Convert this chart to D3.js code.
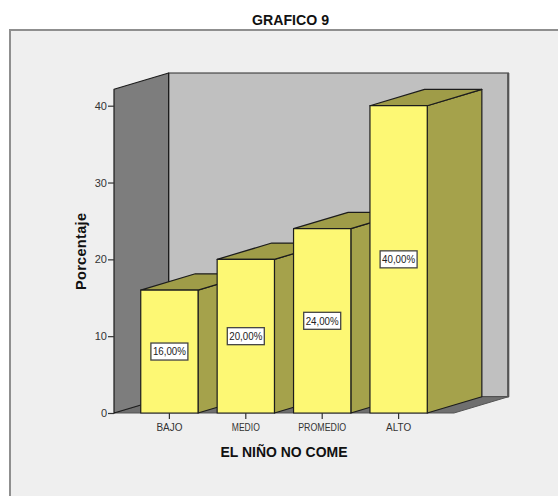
<!DOCTYPE html>
<html><head><meta charset="utf-8">
<script src="https://cdn.jsdelivr.net/npm/d3@7"></script>
<style>html,body{margin:0;padding:0;background:#fff}svg{display:block}text{font-family:"Liberation Sans",Arial,sans-serif}</style>
</head><body>
<script>
const title = "GRAFICO 9";
const xTitle = "EL NIÑO NO COME";
const yTitle = "Porcentaje";
const categories = ["BAJO","MEDIO","PROMEDIO","ALTO"];
const values = [16,20,24,40];
const valueLabels = ["16,00%","20,00%","24,00%","40,00%"];
const yTicks = [0,10,20,30,40];
const colors = {bar:"#fdf874",side:"#a5a24b",top:"#9f9c48",wall:"#c0c0c0",leftWall:"#7d7d7d",floor:"#6f6f6f",bg:"#efefef",line:"#1c1c1c"};

const W=558,H=496;
const svg=d3.select("body").append("svg").attr("width",W).attr("height",H);
const y=d3.scaleLinear().domain([0,40]).range([413,105.7]);
const x=d3.scaleBand().domain(categories).range([114,454]).paddingInner(0.25).paddingOuter(0.35);
const DX=54.6,DY=-16.3;
const wallTop=y.invert(89.3);
const poly=(pts,fill,stroke=colors.line,sw=1.2)=>svg.append("polygon").attr("points",pts.map(p=>p.join(",")).join(" ")).attr("fill",fill).attr("stroke",stroke).attr("stroke-width",sw).attr("stroke-linejoin","round");

svg.append("rect").attr("x",10).attr("y",30).attr("width",W).attr("height",H).attr("fill",colors.bg).attr("stroke","#8f8f8f").attr("stroke-width",2);
svg.append("text").attr("x",290.5).attr("y",24.5).attr("text-anchor","middle").attr("font-size",14).attr("font-weight","bold").attr("fill","#111").attr("textLength",77).attr("lengthAdjust","spacingAndGlyphs").text(title);

const x0=114,x1=454,yb=y(0),yt=y(wallTop);
poly([[x0+DX,yt+DY],[x1+DX,yt+DY],[x1+DX,yb+DY],[x0+DX,yb+DY]],colors.wall,"#2a2a2a",1.2);
svg.append("line").attr("x1",x1+DX-0.5).attr("x2",x1+DX-0.5).attr("y1",yt+DY).attr("y2",yb+DY).attr("stroke","#555").attr("stroke-width",2);
poly([[x0,yb],[x0+DX,yb+DY],[x1+DX,yb+DY],[x1,yb]],colors.floor,"#555",1);
poly([[x0,yt],[x0+DX,yt+DY],[x0+DX,yb+DY],[x0,yb]],colors.leftWall,colors.line,1.2);

categories.forEach((c,i)=>{
  const l=x(c),r=l+x.bandwidth(),t=y(values[i]);
  poly([[r,t],[r+DX,t+DY],[r+DX,yb+DY],[r,yb]],colors.side);
  poly([[l,t],[l+DX,t+DY],[r+DX,t+DY],[r,t]],colors.top);
  poly([[l,t],[r,t],[r,yb],[l,yb]],colors.bar);
  const cx=(l+r)/2,cy=y(values[i]/2);
  svg.append("rect").attr("x",cx-18.5).attr("y",cy-8.5).attr("width",37).attr("height",17).attr("fill","#fff").attr("stroke","#444").attr("stroke-width",1.3);
  svg.append("text").attr("x",cx).attr("y",cy+3.8).attr("text-anchor","middle").attr("font-size",11).attr("fill","#222").attr("textLength",33).attr("lengthAdjust","spacingAndGlyphs").text(valueLabels[i]);
});

const yAxis=svg.append("g").attr("transform",`translate(${x0},0)`).call(d3.axisLeft(y).tickValues(yTicks).tickFormat(d3.format("d")).tickSize(6).tickPadding(1));
yAxis.select(".domain").remove();
yAxis.selectAll("line").attr("stroke","#333").attr("stroke-width",1.2);
yAxis.selectAll("text").attr("font-size",11).attr("fill","#333").attr("font-family","Liberation Sans");
const xAxis=svg.append("g").attr("transform",`translate(0,${yb})`).call(d3.axisBottom(x).tickSize(6).tickPadding(3));
xAxis.select(".domain").remove();
xAxis.selectAll("line").attr("stroke","#333").attr("stroke-width",1.2);
xAxis.selectAll("text").attr("font-size",10.5).attr("fill","#333").attr("font-family","Liberation Sans").attr("transform","translate(0,1.5)")
  .attr("textLength",d=>({BAJO:26,MEDIO:28,PROMEDIO:48,ALTO:25}[d])).attr("lengthAdjust","spacingAndGlyphs");

svg.append("text").attr("x",284).attr("y",457).attr("text-anchor","middle").attr("font-size",14.5).attr("font-weight","bold").attr("fill","#111").attr("textLength",127).attr("lengthAdjust","spacingAndGlyphs").text(xTitle);
svg.append("text").attr("transform","translate(86,251.5) rotate(-90)").attr("text-anchor","middle").attr("font-size",14.5).attr("font-weight","bold").attr("fill","#111").attr("textLength",77).text(yTitle);
</script>
</body></html>
